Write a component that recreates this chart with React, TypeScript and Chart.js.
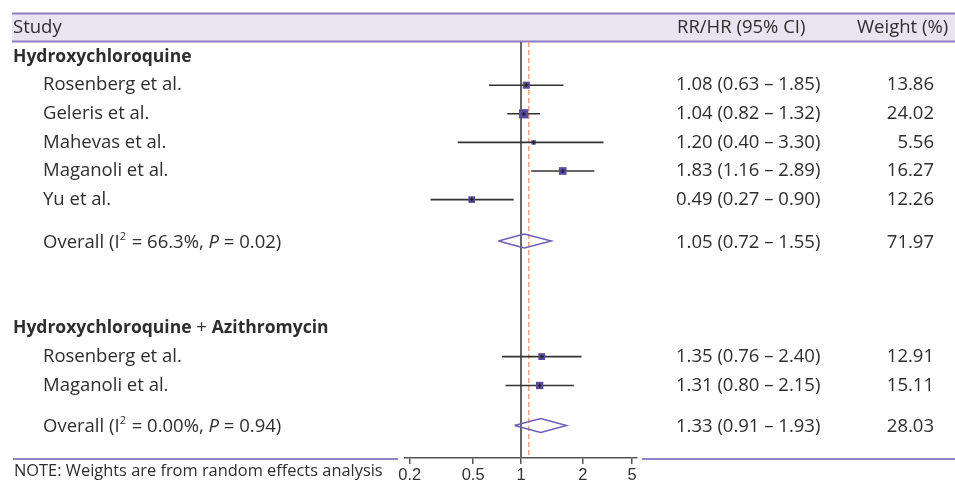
import React, { useEffect, useRef } from "react";
import { Chart, registerables } from "chart.js";

Chart.register(...registerables);

// ---------- data ----------
const groupNames = ["Hydroxychloroquine", "Hydroxychloroquine + Azithromycin"];

const studies1 = ["Rosenberg et al.", "Geleris et al.", "Mahevas et al.", "Maganoli et al.", "Yu et al."];
const est1 = [1.08, 1.04, 1.2, 1.83, 0.49];
const lo1 = [0.63, 0.82, 0.4, 1.16, 0.27];
const hi1 = [1.85, 1.32, 3.3, 2.89, 0.9];
const wt1 = [13.86, 24.02, 5.56, 16.27, 12.26];

const studies2 = ["Rosenberg et al.", "Maganoli et al."];
const est2 = [1.35, 1.31];
const lo2 = [0.76, 0.8];
const hi2 = [2.4, 2.15];
const wt2 = [12.91, 15.11];

const overallEst = [1.05, 1.33];
const overallLo = [0.72, 0.91];
const overallHi = [1.55, 1.93];
const overallWt = [71.97, 28.03];
const overallI2 = ["66.3%", "0.00%"];
const overallP = ["0.02", "0.94"];

const pooledEffect = 1.12;
const nullEffect = 1;

const tickValues = [0.2, 0.5, 1, 2.45, 5];
const tickLabels = ["0.2", "0.5", "1", "2", "5"];

// ---------- layout (row units) ----------
const rowHeader = -0.49;
const rowGroup = [0.54, 10.0];
const rowStudies1 = [1.51, 2.51, 3.51, 4.51, 5.51];
const rowStudies2 = [11.0, 12.01];
const rowOverall = [6.96, 13.41];
const rowNote = 15.0;
const Y_MAX = 14.545;
const DIAMOND_H = 0.245;

const FONT = '"Open Sans", sans-serif';
const TEXT_SIZE = 18.5;
const BOLD_SIZE = 17.5;
const TEXT_COLOR = "#2e2e2e";

const fmt = (v: number) => v.toFixed(2);
const ciText = (e: number, l: number, h: number) => `${fmt(e)} (${fmt(l)} \u2013 ${fmt(h)})`;
const sideFor = (w: number) => 1.9 * Math.sqrt(w);

type Seg = { t: string; style?: "n" | "b" | "i" | "sup" };

function segFont(s: Seg) {
  if (s.style === "b") return `bold ${BOLD_SIZE}px ${FONT}`;
  if (s.style === "i") return `italic ${TEXT_SIZE}px ${FONT}`;
  if (s.style === "sup") return `${11}px ${FONT}`;
  return `${TEXT_SIZE}px ${FONT}`;
}

function drawRich(ctx: CanvasRenderingContext2D, x: number, y: number, segs: Seg[]) {
  let cx = x;
  ctx.textAlign = "left";
  ctx.textBaseline = "middle";
  for (const s of segs) {
    ctx.font = segFont(s);
    const dy = s.style === "sup" ? -6 : 0;
    ctx.fillText(s.t, cx, y + dy);
    cx += ctx.measureText(s.t).width + (s.style === "sup" ? 1 : 0);
  }
}

function drawText(ctx: CanvasRenderingContext2D, t: string, x: number, y: number, align: CanvasTextAlign, bold = false, size = TEXT_SIZE) {
  ctx.font = `${bold ? "bold " : ""}${bold ? BOLD_SIZE : size}px ${FONT}`;
  ctx.textAlign = align;
  ctx.textBaseline = "middle";
  ctx.fillText(t, x, y);
}

const forestText = {
  id: "forestText",
  beforeDraw(chart: any) {
    const { ctx } = chart;
    ctx.save();
    ctx.fillStyle = "#e8e5f1";
    ctx.fillRect(12, 13, 943, 29);
    ctx.strokeStyle = "#8e7cc3";
    ctx.lineWidth = 2;
    ctx.beginPath();
    ctx.moveTo(12, 13.5);
    ctx.lineTo(955, 13.5);
    ctx.moveTo(12, 41.5);
    ctx.lineTo(955, 41.5);
    ctx.stroke();
    ctx.restore();
  },
  afterDraw(chart: any) {
    const { ctx } = chart;
    const y = chart.scales.y;
    const py = (r: number) => y.getPixelForValue(r);
    ctx.save();
    ctx.fillStyle = TEXT_COLOR;
    const xName = 13;
    const xStudy = 43;
    const xCI = 676;
    const xW = 934;

    drawText(ctx, "Study", xName, py(rowHeader), "left");
    drawText(ctx, "RR/HR (95% CI)", 677, py(rowHeader), "left");
    drawText(ctx, "Weight (%)", 857, py(rowHeader), "left");

    // group 1
    drawText(ctx, groupNames[0], xName, py(rowGroup[0]), "left", true);
    studies1.forEach((s, i) => {
      drawText(ctx, s, xStudy, py(rowStudies1[i]), "left");
      drawText(ctx, ciText(est1[i], lo1[i], hi1[i]), xCI, py(rowStudies1[i]), "left");
      drawText(ctx, fmt(wt1[i]), xW, py(rowStudies1[i]), "right");
    });
    // group 2
    const g2 = groupNames[1].split(" + ");
    drawRich(ctx, xName, py(rowGroup[1]), [
      { t: g2[0], style: "b" },
      { t: " + ", style: "n" },
      { t: g2[1], style: "b" },
    ]);
    studies2.forEach((s, i) => {
      drawText(ctx, s, xStudy, py(rowStudies2[i]), "left");
      drawText(ctx, ciText(est2[i], lo2[i], hi2[i]), xCI, py(rowStudies2[i]), "left");
      drawText(ctx, fmt(wt2[i]), xW, py(rowStudies2[i]), "right");
    });
    // overall
    for (let g = 0; g < 2; g++) {
      const yy = py(rowOverall[g]) + 1.5;
      drawRich(ctx, xStudy, yy, [
        { t: "Overall (I" },
        { t: "2", style: "sup" },
        { t: ` = ${overallI2[g]}, ` },
        { t: "P", style: "i" },
        { t: ` = ${overallP[g]})` },
      ]);
      drawText(ctx, ciText(overallEst[g], overallLo[g], overallHi[g]), xCI, yy, "left");
      drawText(ctx, fmt(overallWt[g]), xW, yy, "right");
    }
    // note
    drawText(ctx, "NOTE: Weights are from random effects analysis", 14, py(rowNote), "left", false, 16.4);

    // bottom rule
    ctx.strokeStyle = "#9384c6";
    ctx.lineWidth = 2;
    ctx.beginPath();
    ctx.moveTo(13, 459);
    ctx.lineTo(398, 459);
    ctx.moveTo(642, 459);
    ctx.lineTo(955, 459);
    ctx.stroke();
    ctx.restore();
  },
};

export default function App() {
  const ref = useRef<HTMLCanvasElement | null>(null);

  useEffect(() => {
    if (!ref.current) return;
    const datasets: any[] = [];

    // reference lines
    datasets.push({
      data: [
        { x: nullEffect, y: 0 },
        { x: nullEffect, y: Y_MAX },
      ],
      showLine: true,
      borderColor: "#666",
      borderWidth: 2,
      pointRadius: 0,
      order: 20,
    });
    datasets.push({
      data: [
        { x: pooledEffect, y: 0 },
        { x: pooledEffect, y: Y_MAX },
      ],
      showLine: true,
      borderColor: "#f2a27e",
      borderWidth: 1.5,
      borderDash: [5, 3],
      pointRadius: 0,
      order: 19,
    });

    const allEst = [...est1, ...est2];
    const allLo = [...lo1, ...lo2];
    const allHi = [...hi1, ...hi2];
    const allWt = [...wt1, ...wt2];
    const allRows = [...rowStudies1, ...rowStudies2];

    allEst.forEach((_, i) => {
      datasets.push({
        data: [
          { x: allLo[i], y: allRows[i] },
          { x: allHi[i], y: allRows[i] },
        ],
        showLine: true,
        borderColor: "#333",
        borderWidth: 1.6,
        pointRadius: 0,
        order: 10,
      });
    });

    // diamonds
    for (let g = 0; g < 2; g++) {
      const r = rowOverall[g];
      datasets.push({
        data: [
          { x: overallLo[g], y: r },
          { x: overallEst[g], y: r - DIAMOND_H },
          { x: overallHi[g], y: r },
          { x: overallEst[g], y: r + DIAMOND_H },
          { x: overallLo[g], y: r },
        ],
        showLine: true,
        borderColor: "#6f5db8",
        borderWidth: 1.5,
        pointRadius: 0,
        tension: 0,
        order: 9,
      });
    }

    // squares
    datasets.push({
      data: allEst.map((e, i) => ({ x: e, y: allRows[i] })),
      showLine: false,
      pointStyle: "rect",
      pointRadius: allWt.map((w) => sideFor(w) / Math.SQRT2),
      pointBackgroundColor: "#5b4b9e",
      pointBorderWidth: 0,
      pointBorderColor: "rgba(0,0,0,0)",
      order: 2,
    });
    // center crosses
    datasets.push({
      data: allEst.map((e, i) => ({ x: e, y: allRows[i] })),
      showLine: false,
      pointStyle: "cross",
      pointRadius: 2,
      pointBorderColor: "#1e1e1e",
      pointBorderWidth: 1.2,
      order: 1,
    });

    const chart = new Chart(ref.current, {
      type: "scatter",
      data: { datasets },
      plugins: [forestText],
      options: {
        animation: false,
        responsive: false,
        events: [],
        layout: { padding: { left: 405, right: 318, top: 42, bottom: 0 } },
        plugins: { legend: { display: false }, tooltip: { enabled: false } },
        scales: {
          x: {
            type: "logarithmic",
            bounds: "data",
            min: 0.1866,
            max: 5.36,
            afterBuildTicks: (s: any) => {
              s.ticks = tickValues.map((v) => ({ value: v }));
            },
            afterFit: (s: any) => {
              s.height = 26;
            },
            ticks: {
              callback: (_v: any, i: number) => tickLabels[i],
              font: { family: '"Liberation Sans", Arial, sans-serif', size: 16.5 },
              color: "#333",
              padding: 2,
              maxRotation: 0,
              autoSkip: false,
            },
            grid: { drawOnChartArea: false, drawTicks: true, tickLength: 6, color: "#555", lineWidth: 1.5 },
            border: { display: true, color: "#555", width: 1.5 },
          },
          y: {
            type: "linear",
            min: 0,
            max: Y_MAX,
            reverse: true,
            display: false,
          },
        },
      } as any,
    });
    return () => chart.destroy();
  }, []);

  return (
    <div style={{ position: "absolute", left: 0, top: 0, width: 955, height: 484, background: "#fff" }}>
      <canvas ref={ref} width={955} height={484} style={{ display: "block" }} />
    </div>
  );
}
